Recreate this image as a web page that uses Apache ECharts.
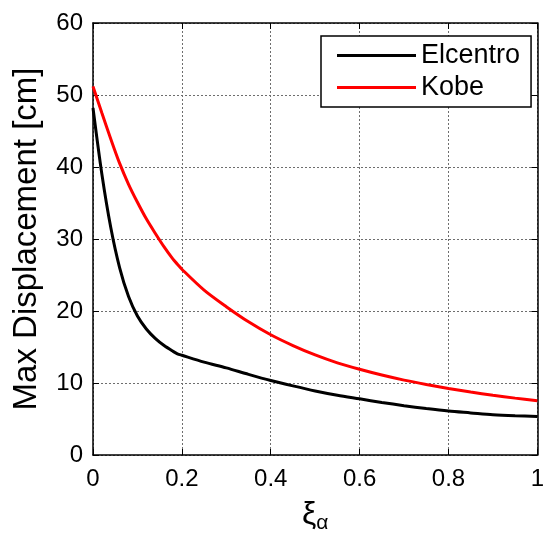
<!DOCTYPE html>
<html>
<head>
<meta charset="utf-8">
<script src="https://cdn.jsdelivr.net/npm/echarts@6/dist/echarts.min.js"></script>
<style>
  html, body { margin: 0; padding: 0; background: #fff; }
  #chart { width: 547px; height: 542px; }
</style>
</head>
<body>
<div id="chart"></div>
<script>
// Damping ratio samples (denser near zero where the response drops fast)
const xi = [0, 0.02, 0.04, 0.06, 0.08, 0.1, 0.12, 0.14, 0.16, 0.18, 0.19, 0.2,
            0.25, 0.3, 0.35, 0.4, 0.45, 0.5, 0.55, 0.6, 0.65, 0.7, 0.75, 0.8,
            0.85, 0.9, 0.95, 1.0];

// Max displacement [cm] for each record
const elcentro = [48.2, 39.0, 31.6, 26.0, 22.0, 19.3, 17.5, 16.2, 15.2, 14.4, 14.05, 13.85,
                  12.9, 12.1, 11.2, 10.35, 9.6, 8.9, 8.3, 7.8, 7.3, 6.85, 6.45, 6.1,
                  5.85, 5.6, 5.45, 5.35];
const kobe = [51.2, 47.5, 43.9, 40.5, 37.6, 35.1, 32.8, 30.8, 28.9, 27.2, 26.5, 25.8,
              22.9, 20.6, 18.5, 16.7, 15.2, 13.9, 12.8, 11.9, 11.1, 10.4, 9.8, 9.25,
              8.75, 8.3, 7.9, 7.55];

const seriesNames = ['Elcentro', 'Kobe'];
const xTicks = [0, 0.2, 0.4, 0.6, 0.8, 1];
const yTicks = [0, 10, 20, 30, 40, 50, 60];

const FONT = '"Liberation Sans", Arial, Helvetica, sans-serif';

const pairs = (xs, ys) => xs.map((x, i) => [x, ys[i]]);

const gridLine = { show: true, lineStyle: { color: '#6e6e6e', width: 1, type: [2, 2] } };
const frameLine = { show: true, onZero: false, lineStyle: { color: '#000', width: 1.5 } };
const innerTick = { show: true, inside: true, length: 6, lineStyle: { color: '#000', width: 1 } };

const chart = echarts.init(document.getElementById('chart'), null, { renderer: 'canvas' });

chart.setOption({
  backgroundColor: '#fff',
  animation: false,
  grid: { left: 93, right: 3, top: 23, bottom: 87, containLabel: false },
  legend: {
    orient: 'vertical',
    left: 321,
    top: 36,
    padding: [6, 11, 6, 16],
    itemGap: 5,
    itemWidth: 79,
    itemHeight: 3,
    itemTextGap: 10,
    borderColor: '#000',
    borderWidth: 1.5,
    backgroundColor: '#fff',
    textStyle: { fontFamily: FONT, fontSize: 27, color: '#000', lineHeight: 27 },
    data: seriesNames.map(n => ({ name: n, icon: 'rect' }))
  },
  xAxis: [{
    type: 'value',
    min: 0, max: 1, interval: 0.2,
    position: 'bottom',
    name: '{a|ξ}{b|α}',
    nameLocation: 'middle',
    nameGap: 42,
    nameTextStyle: {
      rich: {
        a: { fontFamily: FONT, fontSize: 32, color: '#000' },
        b: { fontFamily: FONT, fontSize: 21, color: '#000', padding: [16, 0, 0, 0] }
      }
    },
    axisLine: frameLine,
    axisTick: innerTick,
    splitLine: gridLine,
    axisLabel: {
      margin: 12,
      fontFamily: FONT, fontSize: 24, color: '#000',
      formatter: v => xTicks.includes(+v.toFixed(1)) ? String(+v.toFixed(1)) : ''
    }
  }, {
    type: 'value',
    min: 0, max: 1, interval: 0.2,
    position: 'top',
    axisLine: frameLine,
    axisTick: innerTick,
    splitLine: { show: false },
    axisLabel: { show: false }
  }],
  yAxis: [{
    type: 'value',
    min: 0, max: 60, interval: 10,
    position: 'left',
    name: 'Max Displacement [cm]',
    nameLocation: 'middle',
    nameGap: 50,
    nameTextStyle: { fontFamily: FONT, fontSize: 33, color: '#000' },
    axisLine: frameLine,
    axisTick: innerTick,
    splitLine: gridLine,
    axisLabel: {
      margin: 10,
      fontFamily: FONT, fontSize: 24, color: '#000',
      formatter: v => yTicks.includes(v) ? String(v) : ''
    }
  }, {
    type: 'value',
    min: 0, max: 60, interval: 10,
    position: 'right',
    axisLine: frameLine,
    axisTick: innerTick,
    splitLine: { show: false },
    axisLabel: { show: false }
  }],
  series: [{
    name: seriesNames[0],
    type: 'line',
    data: pairs(xi, elcentro),
    smooth: 0.3,
    symbol: 'none',
    lineStyle: { color: '#000', width: 3 },
    itemStyle: { color: '#000' },
    z: 3
  }, {
    name: seriesNames[1],
    type: 'line',
    data: pairs(xi, kobe),
    smooth: 0.3,
    symbol: 'none',
    lineStyle: { color: '#ff0000', width: 3 },
    itemStyle: { color: '#ff0000' },
    z: 3
  }]
});
</script>
</body>
</html>
